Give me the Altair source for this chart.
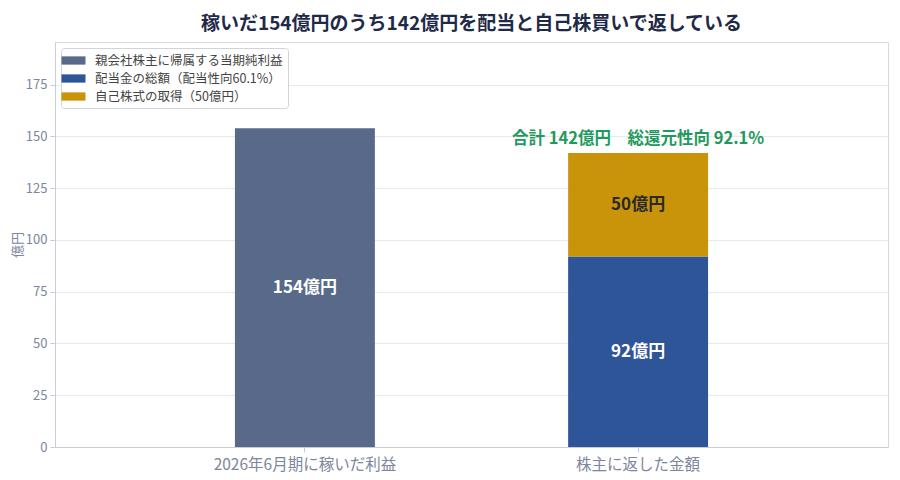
import altair as alt
import pandas as pd

categories = ["2026年6月期に稼いだ利益", "株主に返した金額", "株主に返した金額"]
series = ["親会社株主に帰属する当期純利益", "配当金の総額（配当性向60.1%）", "自己株式の取得（50億円）"]
values = [154, 92, 50]
stack_order = [0, 0, 1]
bar_labels = ["154億円", "92億円", "50億円"]
label_colors = ["white", "white", "#2a2a2a"]
colors = ["#58698a", "#2e5597", "#c9930a"]
total_label = "合計 142億円　総還元性向 92.1%"
total_value = 142
cat_order = ["2026年6月期に稼いだ利益", "株主に返した金額"]

df = pd.DataFrame({
    "cat": categories,
    "series": series,
    "value": values,
    "ord": stack_order,
    "label": bar_labels,
    "lc": label_colors,
})
df["start"] = df.groupby("cat")["value"].cumsum() - df["value"]
df["end"] = df["start"] + df["value"]
df["mid"] = (df["start"] + df["end"]) / 2

FONT = "Noto Sans CJK JP"

x_enc = alt.X("cat:N", sort=cat_order, title=None,
              scale=alt.Scale(paddingInner=0.58, paddingOuter=0.54),
              axis=alt.Axis(labelAngle=0, labelFontSize=15.5, labelColor="#7d869c",
                            labelLimit=500,
                            labelPadding=5, tickColor="#c8cdd8", domainColor="#c8cdd8",
                            tickSize=5))
y_scale = alt.Scale(domain=[0, 195.6], nice=False)

bars = alt.Chart(df).mark_bar().encode(
    x=x_enc,
    y=alt.Y("start:Q", scale=y_scale, title="億円",
            axis=alt.Axis(values=[0, 25, 50, 75, 100, 125, 150, 175],
                          labelFontSize=13, labelColor="#7d869c",
                          titleColor="#7d869c", titleFontSize=13, titleFontWeight="normal",
                          gridColor="#e6e9ef", domainColor="#c8cdd8",
                          tickColor="#c8cdd8", tickSize=5, labelPadding=3,
                          titleX=-38, titleBaseline="middle", titleAngle=270)),
    y2="end:Q",
    color=alt.Color("series:N", sort=series,
                    scale=alt.Scale(domain=series, range=colors),
                    legend=alt.Legend(title=None, orient="top-left", offset=6,
                                      labelFontSize=12.5, labelColor="#444",
                                      labelLimit=400,
                                      strokeColor="#cfd3dc", fillColor="white",
                                      padding=5, cornerRadius=3,
                                      symbolType="M-1.6,-0.55L1.6,-0.55L1.6,0.55L-1.6,0.55Z",
                                      symbolSize=225, symbolStrokeWidth=0,
                                      rowPadding=4, labelOffset=14)),
    order=alt.Order("ord:Q"),
)

texts = alt.Chart(df).mark_text(fontSize=17, fontWeight="bold", font=FONT).encode(
    x=alt.X("cat:N", sort=cat_order),
    y=alt.Y("mid:Q", scale=y_scale),
    text="label:N",
    color=alt.Color("lc:N", scale=None),
)

tdf = pd.DataFrame({"cat": ["株主に返した金額"], "v": [total_value], "t": [total_label]})
total = alt.Chart(tdf).mark_text(fontSize=16.5, fontWeight="bold", font=FONT,
                                 color="#1f9a5e", baseline="bottom", dy=-6).encode(
    x=alt.X("cat:N", sort=cat_order),
    y=alt.Y("v:Q", scale=y_scale),
    text="t:N",
)

chart = alt.layer(bars, texts, total).properties(
    width=833, height=405,
    autosize=alt.AutoSizeParams(type="none"),
    padding={"left": 47, "top": 34, "right": 4, "bottom": 25},
    title=alt.Title("稼いだ154億円のうち142億円を配当と自己株買いで返している",
                    fontSize=19, fontWeight="bold", color="#1f2a48", font=FONT,
                    offset=8),
).configure(font=FONT).configure_view(stroke="#d5d9e2", strokeWidth=1)

chart.save("out.html", embed_options={"renderer": "svg", "actions": False})
